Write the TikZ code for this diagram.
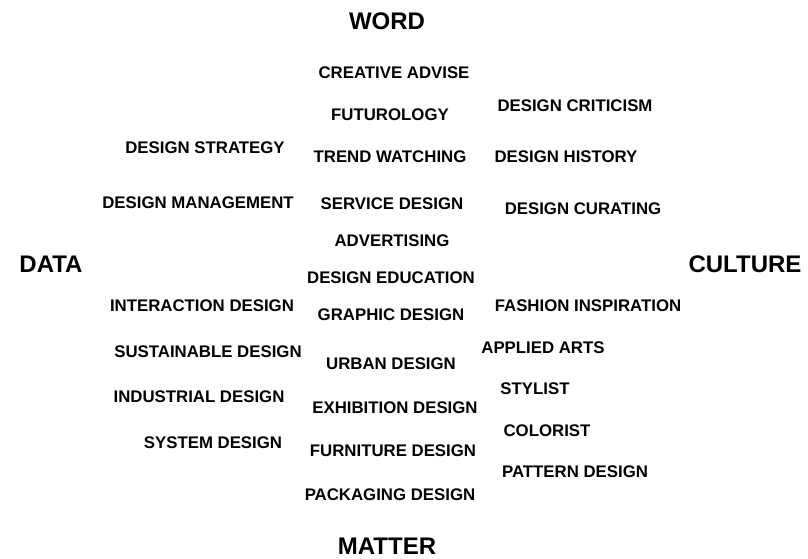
\documentclass[tikz,border=0pt]{standalone}
\usepackage{fontspec}
\setmainfont{Liberation Sans}
\usepackage{tikz}
\tikzstyle{field}=[inner sep=0pt, anchor=center, font=\bfseries\fontsize{16.8}{19}\selectfont]
\tikzstyle{pole}=[inner sep=0pt, anchor=center, font=\bfseries\fontsize{24}{28}\selectfont]

\begin{document}
\begin{tikzpicture}[x=1pt, y=-1pt]
			\useasboundingbox (0,0) rectangle (808,558);

			% Poles
			\node[pole] (word) at (387, 21) {WORD};
			\node[pole] (data) at (51, 264) {DATA};
			\node[pole] (culture) at (745, 264) {CULTURE};
			\node[pole] (matter) at (387, 546) {MATTER};

			% Middle column
			\node[field] (creative) at (394, 73) {CREATIVE ADVISE};
			\node[field] (futurology) at (390, 115) {FUTUROLOGY};
			\node[field] (trend) at (390, 157) {TREND WATCHING};
			\node[field] (service) at (392, 204) {SERVICE DESIGN};
			\node[field] (advertising) at (392, 241) {ADVERTISING};
			\node[field] (education) at (391, 278) {DESIGN EDUCATION};
			\node[field] (graphic) at (391, 315) {GRAPHIC DESIGN};
			\node[field] (urban) at (391, 364) {URBAN DESIGN};
			\node[field] (exhibition) at (395, 408) {EXHIBITION DESIGN};
			\node[field] (furniture) at (393, 451) {FURNITURE DESIGN};
			\node[field] (packaging) at (390, 495) {PACKAGING DESIGN};

			% Left column
			\node[field] (strategy) at (205, 148) {DESIGN STRATEGY};
			\node[field] (management) at (198, 203) {DESIGN MANAGEMENT};
			\node[field] (interaction) at (202, 306) {INTERACTION DESIGN};
			\node[field] (sustainable) at (208, 352) {SUSTAINABLE DESIGN};
			\node[field] (industrial) at (199, 397) {INDUSTRIAL DESIGN};
			\node[field] (system) at (213, 443) {SYSTEM DESIGN};

			% Right column
			\node[field] (criticism) at (575, 106) {DESIGN CRITICISM};
			\node[field] (history) at (566, 157) {DESIGN HISTORY};
			\node[field] (curating) at (583, 209) {DESIGN CURATING};
			\node[field] (fashion) at (588, 306) {FASHION INSPIRATION};
			\node[field] (applied) at (543, 348) {APPLIED ARTS};
			\node[field] (stylist) at (535, 389) {STYLIST};
			\node[field] (colorist) at (547, 431) {COLORIST};
			\node[field] (pattern) at (575, 472) {PATTERN DESIGN};
		\end{tikzpicture}
\end{document}
